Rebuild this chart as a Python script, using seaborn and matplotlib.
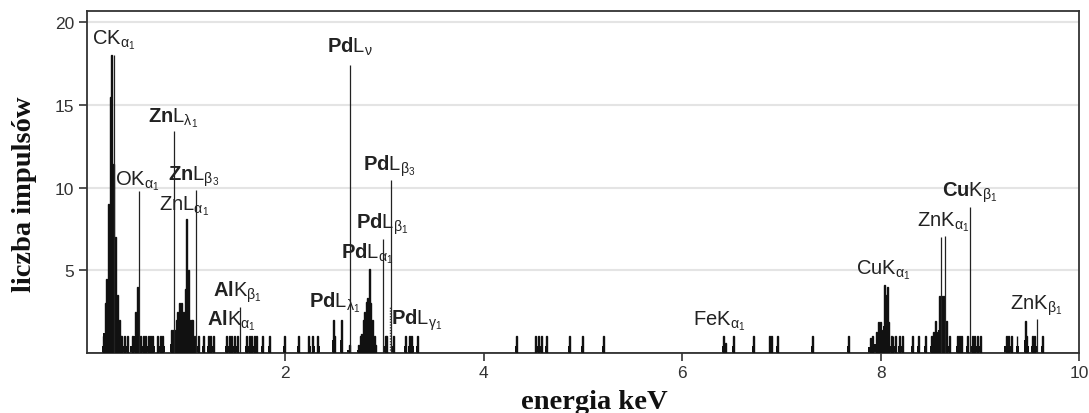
import numpy as np
import pandas as pd
import matplotlib
matplotlib.use("Agg")
import matplotlib.pyplot as plt
import seaborn as sns

# EDS spectrum: bin energy (keV) and counts
energy = [0.164, 0.181, 0.198, 0.215, 0.232, 0.249, 0.265, 0.289, 0.305, 0.322, 0.338,
          0.349, 0.373, 0.400,
          0.453, 0.483, 0.507, 0.534,
          0.561, 0.584, 0.617, 0.641, 0.668, 0.718, 0.745, 0.768,
          0.853, 0.870, 0.886, 0.903, 0.919, 0.937, 0.953, 0.970, 0.990, 1.004, 1.020, 1.037, 1.050, 1.064, 1.088,
          1.121, 1.171, 1.222, 1.246, 1.272, 1.407, 1.433, 1.457, 1.483, 1.514,
          1.608, 1.634, 1.658, 1.682, 1.709, 1.769, 1.836, 1.994, 2.135, 2.239, 2.279, 2.329,
          2.480, 2.497, 2.565, 2.640,
          2.736, 2.750, 2.766, 2.783, 2.800, 2.817, 2.827, 2.840, 2.857, 2.873, 2.890, 2.907,
          3.001, 3.018, 3.085, 3.213, 3.253, 3.280, 3.336,
          4.327, 4.529, 4.555, 4.582, 4.636, 4.864, 4.998, 5.206,
          6.415, 6.435, 6.516, 6.717, 6.885, 6.905, 6.962, 7.314, 7.674,
          7.892, 7.918, 7.952, 7.976, 7.996, 8.019, 8.036, 8.053, 8.063, 8.079, 8.104, 8.127, 8.154, 8.194, 8.220,
          8.321, 8.382, 8.456,
          8.517, 8.540, 8.557, 8.575, 8.597, 8.617, 8.633, 8.667, 8.690,
          8.774, 8.792, 8.819, 8.875, 8.920, 8.943, 8.976, 9.003,
          9.262, 9.288, 9.312, 9.378, 9.463, 9.479, 9.530, 9.557, 9.630]
counts = [1, 3, 4.5, 9, 15.5, 18, 11.4, 7, 3.5, 2, 1,
          1, 1, 1,
          1, 2.5, 4, 1,
          1, 1, 1, 1, 1, 1, 1, 1,
          1.4, 1.4, 1.4, 2, 2.5, 3, 3, 2.5, 3.9, 8.1, 5, 2, 2, 2, 1,
          1, 1, 1, 1, 1, 1, 1, 1, 1, 1,
          1, 1, 1, 1, 1, 1, 1, 1, 1, 1, 1, 1,
          2, 1, 2, 0.5,
          0.5, 1, 1.15, 2, 2.45, 3.1, 3.3, 5.1, 3, 2, 1, 0.5,
          1, 1, 1, 1, 1, 1, 1,
          1, 1, 1, 1, 1, 1, 1, 1,
          1, 0.6, 1, 1, 1, 1, 1, 1, 1,
          0.9, 1, 1.3, 1.9, 1.9, 1.4, 4.1, 3.5, 4.0, 1.9, 1, 1, 1, 1, 1,
          1, 1, 1,
          1, 1.3, 1.95, 1.3, 3.45, 3.45, 3.45, 1.95, 1,
          1, 1, 1, 1, 1, 1, 1, 1,
          1, 1, 1, 1, 1.95, 1, 1, 1, 1]

# characteristic line markers
line_energy = [0.277, 0.520, 0.876, 1.095, 1.540, 2.650, 2.985, 3.068, 8.607, 8.650, 8.902, 9.580]
line_height = [18.0, 9.8, 13.4, 9.85, 2.8, 17.4, 6.9, 10.45, 7.0, 7.05, 8.8, 2.05]
dotted_energy = [3.058]
dotted_height = [2.8]

labels = [r"C$\mathrm{K}_{\alpha_1}$", r"O$\mathrm{K}_{\alpha_1}$", r"Zn$\mathrm{L}_{\lambda_1}$",
          r"Zn$\mathrm{L}_{\beta_3}$", r"Zn$\mathrm{L}_{\alpha_1}$", r"Al$\mathrm{K}_{\beta_1}$",
          r"Al$\mathrm{K}_{\alpha_1}$", r"Pd$\mathrm{L}_{\lambda_1}$", r"Pd$\mathrm{L}_{\nu}$",
          r"Pd$\mathrm{L}_{\beta_3}$", r"Pd$\mathrm{L}_{\beta_1}$", r"Pd$\mathrm{L}_{\alpha_1}$",
          r"Pd$\mathrm{L}_{\gamma_1}$", r"Fe$\mathrm{K}_{\alpha_1}$", r"Cu$\mathrm{K}_{\alpha_1}$",
          r"Zn$\mathrm{K}_{\alpha_1}$", r"Cu$\mathrm{K}_{\beta_1}$", r"Zn$\mathrm{K}_{\beta_1}$"]
label_x = [0.05, 0.28, 0.61, 0.82, 0.725, 1.27, 1.21, 2.24, 2.42, 2.78, 2.71, 2.56, 3.06, 6.11, 7.75, 8.37, 8.62, 9.30]
label_y = [18.7, 10.2, 14.0, 10.5, 8.7, 3.45, 1.75, 2.8, 18.2, 11.1, 7.55, 5.8, 1.75, 1.7, 4.8, 7.7, 9.5, 2.7]
label_bold = [False, False, True, True, False, True, True, True, True, True, True, True, True,
              False, False, False, True, False]

sns.set_theme(style="white")
plt.rcParams['font.family'] = ['Liberation Sans', 'DejaVu Sans']
plt.rcParams['mathtext.fontset'] = 'custom'
plt.rcParams['mathtext.rm'] = 'Liberation Sans'
plt.rcParams['mathtext.it'] = 'Liberation Sans'
plt.rcParams['mathtext.bf'] = 'Liberation Sans:bold'

df = pd.DataFrame({'energia': energy, 'liczba': counts})

fig = plt.figure(figsize=(10.89, 4.14), dpi=100)
ax = fig.add_axes([87 / 1089, 1 - 354 / 414, 992 / 1089, 342 / 414])

for yv in [5, 10, 15, 20]:
    ax.axhline(yv, color='#e4e4e4', lw=1.5, zorder=0)

# broad foot of every spike
ax.bar(df['energia'], df['liczba'] * 0.4, width=0.03, color='#111111', lw=0, zorder=2)
sns.histplot(data=df, x='energia', weights='liczba', binwidth=0.01, binrange=(0, 10),
             color='#111111', edgecolor='#111111', linewidth=1.0, alpha=1, ax=ax, zorder=3)

ax.vlines(line_energy, 0, line_height, color='#222222', lw=0.9, zorder=4)
ax.vlines(dotted_energy, 0, dotted_height, color='#444444', lw=1.0, linestyles=(0, (1, 1)), zorder=4)

for t, x, y, b in zip(labels, label_x, label_y, label_bold):
    ax.text(x, y, t, fontsize=14.5, color='#222222', ha='left', va='baseline',
            fontweight='bold' if b else 'normal', zorder=5)

ax.set_xlim(0, 10)
ax.set_ylim(0, 20.68)
ax.set_xticks([2, 4, 6, 8, 10])
ax.set_yticks([5, 10, 15, 20])
ax.tick_params(axis='both', direction='out', length=6, width=1.2, color='#333333',
               labelsize=12.5, labelcolor='#333333', bottom=True, left=True, pad=3)
for s in ax.spines.values():
    s.set_color('#333333')
    s.set_linewidth(1.3)

ax.set_xlabel('energia keV', fontsize=20.5, fontweight='bold', family='Liberation Serif', color='#111111')
ax.set_ylabel('liczba impulsów', fontsize=20.5, fontweight='bold', family='Liberation Serif', color='#111111')
ax.xaxis.set_label_coords(0.511, -0.105)
ax.yaxis.set_label_coords(-0.050, 0.468)

fig.savefig('out.png', dpi=100)
